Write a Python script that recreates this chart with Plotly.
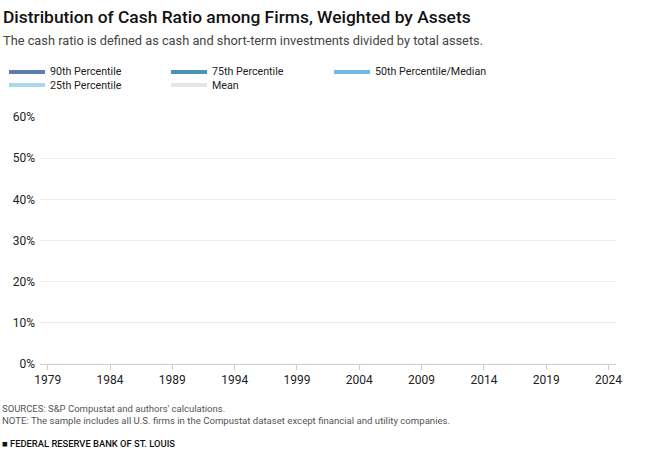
import plotly.graph_objects as go

# Series (no line data is visible in the reference image)
series_names = ["90th Percentile", "75th Percentile", "50th Percentile/Median", "25th Percentile", "Mean"]
series_colors = ["#5a7fae", "#4a93b8", "#6bb8e3", "#a8d8ee", "#e6e6e6"]
years = []
p90 = []
p75 = []
p50 = []
p25 = []
mean = []
series_values = [p90, p75, p50, p25, mean]

x_ticks = [1979, 1984, 1989, 1994, 1999, 2004, 2009, 2014, 2019, 2024]
y_ticks = [0, 0.1, 0.2, 0.3, 0.4, 0.5, 0.6]
y_ticklabels = ["0%", "10%", "20%", "30%", "40%", "50%", "60%"]

W, H = 650, 450
ML, MR, MT, MB = 40, 34, 117, 86
PW, PH = W - ML - MR, H - MT - MB


def px(xp):
    return (xp - ML) / PW


def py(yp):
    return (H - MB - yp) / PH


fig = go.Figure()
for name, color, vals in zip(series_names, series_colors, series_values):
    fig.add_trace(go.Scatter(x=years, y=vals, mode="lines", name=name,
                             line=dict(color=color, width=2), showlegend=False))

fig.update_layout(
    width=W, height=H,
    margin=dict(l=ML, r=MR, t=MT, b=MB),
    paper_bgcolor="white", plot_bgcolor="white",
    font=dict(family="Roboto", color="#222"),
    showlegend=False,
    xaxis=dict(range=[1978.38, 2024.6], tickvals=x_ticks, ticktext=[str(v) for v in x_ticks],
               showgrid=False, zeroline=False, showline=True, linecolor="#cccccc", linewidth=1,
               ticks="outside", ticklen=5, tickcolor="#cccccc",
               tickfont=dict(size=12, color="#222")),
    yaxis=dict(range=[0, 0.6], tickvals=y_ticks, ticktext=y_ticklabels,
               showgrid=True, gridcolor="#ececec", zeroline=False, showline=False,
               ticks="", tickfont=dict(size=12, color="#222"), ticklabelstandoff=4),
)

# Legend (built manually: 3 columns, 2 rows)
col_x = [9, 171, 334]
row_y = [72, 85]
for i, (name, color) in enumerate(zip(series_names, series_colors)):
    cx = col_x[i % 3]
    ry = row_y[i // 3]
    fig.add_shape(type="line", xref="paper", yref="paper",
                  x0=px(cx), x1=px(cx + 36), y0=py(ry), y1=py(ry),
                  line=dict(color=color, width=4))
    fig.add_annotation(text=name, xref="paper", yref="paper", x=px(cx + 39), y=py(ry),
                       xanchor="left", yanchor="middle", showarrow=False,
                       font=dict(size=10.7, color="#222"))

fig.add_annotation(text="Distribution of Cash Ratio among Firms, Weighted by Assets",
                   xref="paper", yref="paper", x=px(1), y=py(17),
                   xanchor="left", yanchor="middle", showarrow=False,
                   font=dict(size=17.4, color="#111", weight=500))
fig.add_annotation(text="The cash ratio is defined as cash and short-term investments divided by total assets.",
                   xref="paper", yref="paper", x=px(1), y=py(40),
                   xanchor="left", yanchor="middle", showarrow=False,
                   font=dict(size=12.8, color="#444"))
fig.add_annotation(text="SOURCES: S&P Compustat and authors' calculations.",
                   xref="paper", yref="paper", x=px(0), y=py(408),
                   xanchor="left", yanchor="middle", showarrow=False,
                   font=dict(size=9.5, color="#555"))
fig.add_annotation(text="NOTE: The sample includes all U.S. firms in the Compustat dataset except financial and utility companies.",
                   xref="paper", yref="paper", x=px(0), y=py(420),
                   xanchor="left", yanchor="middle", showarrow=False,
                   font=dict(size=9.6, color="#555"))
fig.add_annotation(text="■ FEDERAL RESERVE BANK OF ST. LOUIS",
                   xref="paper", yref="paper", x=px(0), y=py(443),
                   xanchor="left", yanchor="middle", showarrow=False,
                   font=dict(size=9.4, color="#111", weight=500))

fig.write_html("out.html")
